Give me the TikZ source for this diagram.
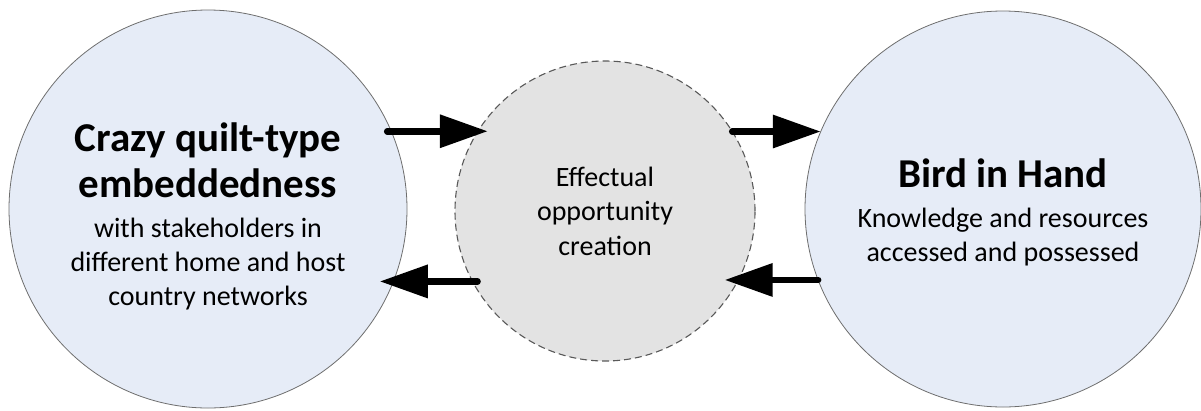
\documentclass[tikz,border=0pt]{standalone}
\usepackage{fontspec}
\setmainfont{Carlito}
\usetikzlibrary{arrows.meta}
\definecolor{sidefill}{RGB}{230,236,247}
\definecolor{hubfill}{RGB}{227,227,227}
\definecolor{sideline}{RGB}{110,110,110}
\newcommand\bighead{\fontsize{41}{48}\selectfont\bfseries}
\newcommand\smallbody{\fontsize{28}{34}\selectfont\mdseries}

\begin{document}
\begin{tikzpicture}[x=1pt,y=1pt,
  sidenode/.style={circle,draw=sideline,line width=0.8pt,fill=sidefill,minimum size=#1,
    inner sep=0pt,outer sep=0pt},
  hub/.style={circle,draw=black!65,line width=1.1pt,dash pattern=on 7pt off 4pt,fill=hubfill,
    minimum size=300pt,inner sep=0pt,outer sep=0pt},
  words/.style={inner sep=0pt,align=center,font=\smallbody},
  flow/.style={line width=6.5pt,line cap=round,-{Triangle[length=48pt,width=32pt]}}]
\useasboundingbox (0,0) rectangle (1201,-410);
\node[sidenode=398pt] (quilt) at (208,-209) {};
\node[sidenode=396pt] (hand) at (1003,-209) {};
\node[hub] (effect) at (605,-211) {};
\node[words,yshift=-7pt] (quilttext) at (quilt) {\bighead Crazy quilt-type\\[10pt] \bighead embeddedness\\[6pt]
  with stakeholders in\\ different home and host\\ country networks};
\node[words,yshift=-3.5pt] (handtext) at (hand) {\bighead Bird in Hand\\[6pt]
  Knowledge and resources\\ accessed and possessed};
\node[words,font=\fontsize{28}{34.5}\selectfont] (effecttext) at (effect) {Effectual\\ opportunity\\ creation};
\draw[flow,shorten <=-4pt,shorten >=-10pt] (quilt.23) -- (quilt.23 -| effect.148);
\draw[flow] (effect.32) -- (effect.32 -| hand.157);
\draw[flow,shorten >=-14pt] (hand.201) -- (hand.201 -| effect.333);
\draw[flow,shorten <=-5pt,shorten >=-14pt] (effect.208) -- (effect.208 -| quilt.-21);
\end{tikzpicture}
\end{document}
